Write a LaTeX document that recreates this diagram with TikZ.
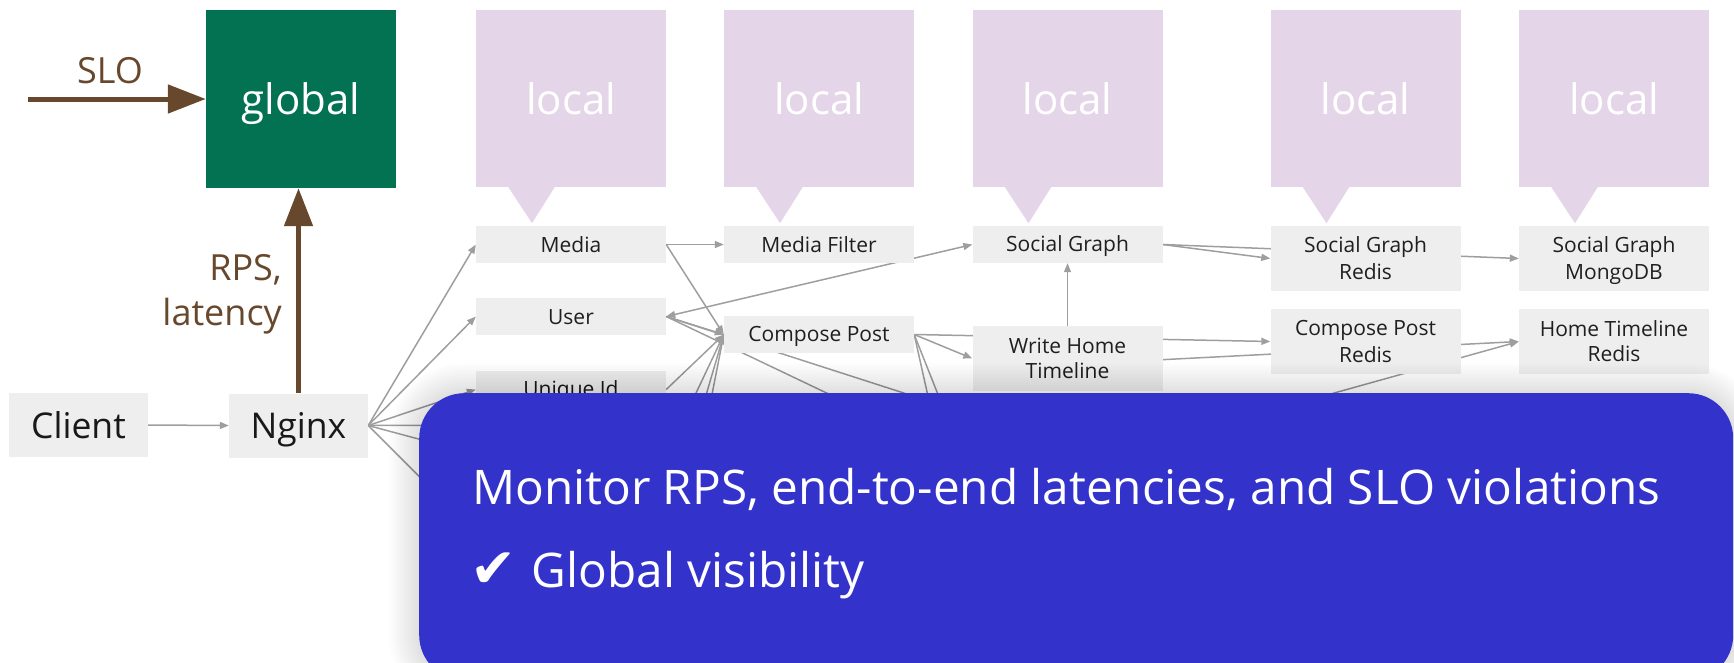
\documentclass[tikz,border=0pt]{standalone}
\usepackage{fontspec}
\setmainfont{Open Sans}
\newfontfamily\symfont{DejaVu Sans}
\usetikzlibrary{arrows.meta,calc}
\pgfdeclarelayer{edges}
\pgfdeclarelayer{overlay}
\pgfsetlayers{edges,main,overlay}

\definecolor{globalgreen}{RGB}{3,114,82}
\definecolor{metricbrown}{RGB}{103,72,44}
\definecolor{localpink}{RGB}{228,214,232}
\definecolor{svcgray}{RGB}{238,238,238}
\definecolor{edgegray}{RGB}{158,158,158}
\definecolor{calloutblue}{RGB}{51,51,204}

% struts that fix where the baseline sits inside a box
\newcommand{\svcstrut}{\vrule height 20pt depth 5pt width 0pt}
\newcommand{\labelstrut}{\vrule height 42pt depth 10pt width 0pt}
\newcommand{\entrystrut}{\vrule height 34pt depth 8pt width 0pt}

\tikzset{
  svc/.style={fill=svcgray, minimum width=190pt, minimum height=37pt, inner sep=0pt,
    align=center, text=black!88, font=\fontsize{21}{25}\selectfont},
  svctall/.style={svc, minimum height=65pt},
  entry/.style={fill=svcgray, minimum width=139pt, minimum height=64pt, inner sep=0pt,
    text=black!90, font=\fontsize{35.5}{40}\selectfont},
  localbox/.style={fill=localpink, minimum width=190pt, minimum height=177pt, inner sep=0pt,
    text=white, font=\fontsize{42}{48}\selectfont},
  call/.style={draw=edgegray, line width=1.5pt, -{Triangle[length=9pt,width=7pt]}},
  twoway/.style={draw=edgegray, line width=1.5pt, {Triangle[length=9pt,width=7pt]}-{Triangle[length=9pt,width=7pt]}},
  link/.style={draw=edgegray, line width=1.5pt},
  metric/.style={draw=metricbrown, line width=5pt, -{Triangle[length=38pt,width=28pt]}},
  metrictext/.style={text=metricbrown, inner sep=0pt, font=\fontsize{36}{45}\selectfont},
  callouttext/.style={text=white, inner sep=0pt, font=\fontsize{47.7}{56}\selectfont},
}

\begin{document}
\begin{tikzpicture}[x=1pt, y=-1pt]
\useasboundingbox (0,0) rectangle (1734,662);

% global controller and its inputs
\node[fill=globalgreen, minimum width=190pt, minimum height=178pt, inner sep=0pt,
      text=white, font=\fontsize{42}{48}\selectfont] (global) at (301,99) {\labelstrut global};
\coordinate (slostart) at (28,99);
\draw[metric] (slostart) -- (global.west);
\node[metrictext, anchor=base] (slo) at (110,83) {SLO};

\node[entry] (client) at (78.5,425) {\entrystrut Client};
\node[entry] (nginx) at (298.5,425.5) {\entrystrut Nginx};
\draw[metric] (nginx.north) -- (nginx.north |- global.south);
\node[metrictext, anchor=base east] (rps) at (282,280) {RPS,};
\node[metrictext, anchor=base east] (latency) at (282,325) {latency};

% local controllers
\foreach \n/\x in {1/571, 2/819, 3/1067.5, 4/1365.5, 5/1614} {
  \node[localbox] (local\n) at (\x,98.5) {\labelstrut local};
  \fill[localpink] ($(local\n.south)+(-63,-0.5)$) -- ($(local\n.south)+(-39,36)$)
                   -- ($(local\n.south)+(-16,-0.5)$) -- cycle;
}

% services
\node[svc] (media) at (571,244.5) {\svcstrut Media};
\node[svc] (user) at (571,316.5) {\svcstrut User};
\node[svc] (uniqueid) at (571,389.5) {\svcstrut Unique Id};
\node[svc] (mediafilter) at (819,244.5) {\svcstrut Media Filter};
\node[svc] (composepost) at (819,334.5) {\svcstrut Compose Post};
\node[svc] (socialgraph) at (1067.5,244.5) {\svcstrut Social Graph};
\node[svctall] (wht) at (1067.5,358.5) {\svcstrut Write Home\\\svcstrut Timeline};
\node[svctall] (sgredis) at (1365.5,258.5) {\svcstrut Social Graph\\\svcstrut Redis};
\node[svctall] (sgmongo) at (1614,258.5) {\svcstrut Social Graph\\\svcstrut MongoDB};
\node[svctall] (cpredis) at (1365.5,341.5) {\svcstrut Compose Post\\\svcstrut Redis};
\node[svctall] (htredis) at (1614,341.5) {\svcstrut Home Timeline\\\svcstrut Redis};

% ends of calls that run on below the panel
\coordinate (hidA) at (620,425);
\coordinate (hidB) at (620,493);
\coordinate (hidC) at (540,597);
\coordinate (hidD) at (900,428);
\coordinate (hidE) at (1000,424);
\coordinate (hidF) at (669,450);
\coordinate (hidG) at (690,450);
\coordinate (hidH) at (701,450);
\coordinate (hidI) at (940,450);
\coordinate (hidJ) at (960,450);
\coordinate (hidK) at (1094,460);

\begin{pgfonlayer}{edges}
  \draw[call] (client.east) -- (nginx.west);
  \draw[call] (nginx.east) -- (media.west);
  \draw[call] (nginx.east) -- (user.west);
  \draw[call] (nginx.east) -- (uniqueid.west);
  \draw[link] (nginx.east) -- (hidA);
  \draw[link] (nginx.east) -- (hidB);
  \draw[link] (nginx.east) -- (hidC);
  \draw[call] (media.east) -- (mediafilter.west);
  \draw[call] (media.east) -- (composepost.west);
  \draw[call] (user.east) -- (composepost.west);
  \draw[call] (uniqueid.east) -- (composepost.west);
  \draw[link] (user.east) -- (hidD);
  \draw[link] (user.east) -- (hidE);
  \draw[call] (hidF) -- (composepost.west);
  \draw[call] (hidG) -- (composepost.west);
  \draw[call] (hidH) -- (composepost.west);
  \draw[twoway] (user.east) -- (socialgraph.west);
  \draw[call] (composepost.east) -- (wht.west);
  \draw[call] (composepost.east) -- (cpredis.west);
  \draw[link] (composepost.east) -- (hidI);
  \draw[link] (composepost.east) -- (hidJ);
  \draw[call] (wht.north) -- (socialgraph.south);
  \draw[call] (socialgraph.east) -- (sgredis.west);
  \draw[call] (socialgraph.east) -- (sgmongo.west);
  \draw[call] ([yshift=-6pt]wht.center) -- (htredis.west);
  \draw[call] (hidK) -- (htredis.west);
\end{pgfonlayer}

% summary panel with a soft shadow
\begin{pgfonlayer}{overlay}
  \foreach \i in {1,...,15} {
    \pgfmathsetmacro\rad{45+2*\i}
    \fill[black, opacity=0.008, rounded corners=\rad pt]
      (419-2*\i, 393-2*\i) rectangle (1733+2*\i, 680+2*\i);
  }
  \node[fill=calloutblue, rounded corners=45pt, minimum width=1314pt, minimum height=287pt,
        inner sep=0pt, anchor=north west] (panel) at (419,393) {};
  \node[callouttext, anchor=base west] (monitor) at (472,504)
    {Monitor RPS, end-to-end latencies, and SLO violations};
  \node[callouttext, anchor=base west] (visibility) at (470,587)
    {{\symfont\fontsize{55}{60}\selectfont ✔}\hspace{3pt} Global visibility};
\end{pgfonlayer}
\end{tikzpicture}
\end{document}
